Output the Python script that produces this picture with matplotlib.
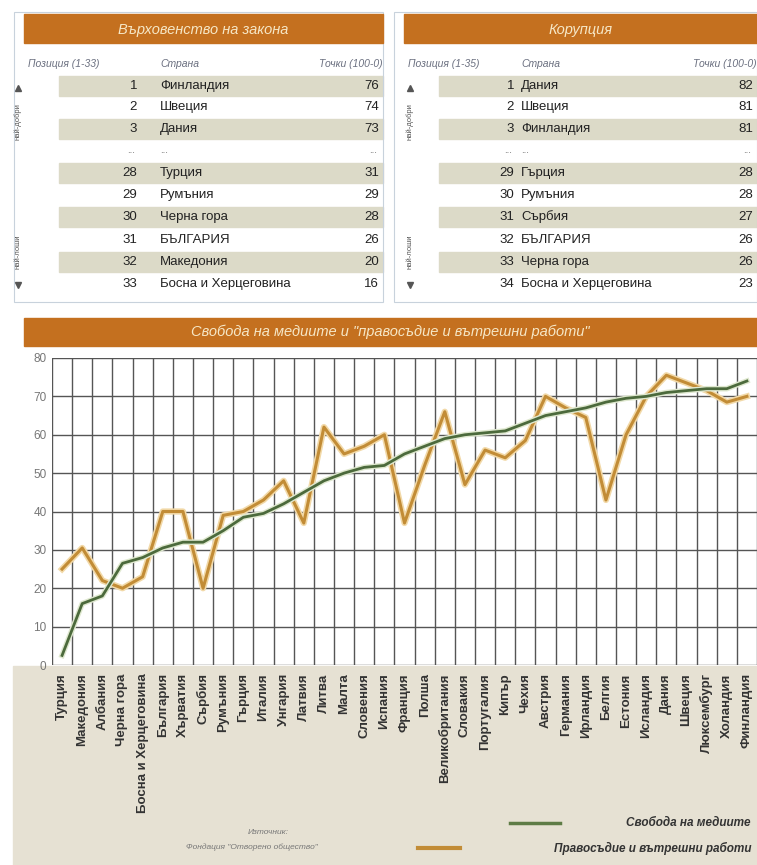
import matplotlib.pyplot as plt
from matplotlib.patches import Rectangle

plt.rcParams['font.family'] = ['Liberation Sans', 'DejaVu Sans']

# таблица "Върховенство на закона"
rule_pos = [1, 2, 3, 28, 29, 30, 31, 32, 33]
rule_countries = ['Финландия', 'Швеция', 'Дания', 'Турция', 'Румъния', 'Черна гора',
                  'БЪЛГАРИЯ', 'Македония', 'Босна и Херцеговина']
rule_scores = [76, 74, 73, 31, 29, 28, 26, 20, 16]

# таблица "Корупция"
corr_pos = [1, 2, 3, 29, 30, 31, 32, 33, 34]
corr_countries = ['Дания', 'Швеция', 'Финландия', 'Гърция', 'Румъния', 'Сърбия',
                  'БЪЛГАРИЯ', 'Черна гора', 'Босна и Херцеговина']
corr_scores = [82, 81, 81, 28, 28, 27, 26, 26, 23]

# графика
countries = ['Турция', 'Македония', 'Албания', 'Черна гора', 'Босна и Херцеговина',
             'България', 'Хърватия', 'Сърбия', 'Румъния', 'Гърция', 'Италия', 'Унгария',
             'Латвия', 'Литва', 'Малта', 'Словения', 'Испания', 'Франция', 'Полша',
             'Великобритания', 'Словакия', 'Португалия', 'Кипър', 'Чехия', 'Австрия',
             'Германия', 'Ирландия', 'Белгия', 'Естония', 'Исландия', 'Дания', 'Швеция',
             'Люксембург', 'Холандия', 'Финландия']
media = [2.5, 16, 18, 26.5, 28, 30.5, 32, 32, 35, 38.5, 39.5, 42, 45, 48, 50, 51.5, 52,
         55, 57, 59, 60, 60.5, 61, 63, 65, 66, 67, 68.5, 69.5, 70, 71, 71.5, 72, 72, 74]
justice = [25, 30.5, 22, 20, 23, 40, 40, 20, 39, 40, 43, 48, 37, 62, 55, 57, 60,
           37, 52, 66, 47, 56, 54, 58.5, 70, 67, 64.5, 43, 60, 70, 75.5, 73.5, 71.5, 68.5, 70]

W, H = 757, 865
ORANGE = '#c4701f'
CREAM = '#f6e7c6'
SHADE = '#dcdac8'
HEAD = '#6b7080'

fig = plt.figure(figsize=(W / 100, H / 100), dpi=100)
bg = fig.add_axes([0, 0, 1, 1])
bg.set_xlim(0, W)
bg.set_ylim(H, 0)
bg.axis('off')

# бежов фон под графиката
bg.add_patch(Rectangle((13, 666), W - 13, H - 666, color='#e6e1d3', zorder=0))


def draw_table(x0, x1, title, header_pos, pos, names, scores, num_x, name_x, arrow_x):
    bg.add_patch(Rectangle((x0 - 10, 12), x1 - x0 + 10, 290, fill=False, ec='#c8d2dc', lw=0.8))
    bg.add_patch(Rectangle((x0, 14), x1 - x0, 29, color=ORANGE))
    bg.text((x0 + x1) / 2, 30, title, color=CREAM, ha='center', va='center',
            fontsize=10.5, style='italic')
    bg.text(x0 + 4, 64, header_pos, color=HEAD, fontsize=7.5, style='italic', va='center')
    bg.text(name_x, 64, 'Страна', color=HEAD, fontsize=7.5, style='italic', va='center')
    bg.text(x1, 64, 'Точки (100-0)', color=HEAD, fontsize=7.5, style='italic',
            va='center', ha='right')
    ys = [86, 107, 129, 173, 195, 217, 240, 262, 284]
    for i, (p, n, s) in enumerate(zip(pos, names, scores)):
        y = ys[i]
        if i in (0, 2, 3, 5, 7):
            bg.add_patch(Rectangle((x0 + 35, y - 10), x1 - x0 - 35, 20, color=SHADE, zorder=0))
        bg.text(num_x, y, str(p), ha='right', va='center', fontsize=9.5, color='#222')
        bg.text(name_x, y, n, ha='left', va='center', fontsize=9.5, color='#222')
        bg.text(x1 - 4, y, str(s), ha='right', va='center', fontsize=9.5, color='#222')
    for xx in (num_x - 6, name_x + 4, x1 - 10):
        bg.text(xx, 150, '...', ha='center', va='center', fontsize=7, color='#666')
    # стрелки отляво
    bg.plot(arrow_x, 88, marker='^', ms=4, color='#555')
    bg.text(arrow_x, 122, 'най-добри', rotation=90, ha='center', va='center', fontsize=5.5, color='#555')
    bg.text(arrow_x, 252, 'най-лоши', rotation=90, ha='center', va='center', fontsize=5.5, color='#555')
    bg.plot(arrow_x, 285, marker='v', ms=4, color='#555')


draw_table(24, 383, 'Върховенство на закона', 'Позиция (1-33)', rule_pos, rule_countries,
           rule_scores, 137, 160, 18)
draw_table(404, 757, 'Корупция', 'Позиция (1-35)', corr_pos, corr_countries,
           corr_scores, 514, 521, 410)

# заглавие на графиката
bg.add_patch(Rectangle((24, 318), W - 24, 28, color=ORANGE))
bg.text(390, 332, 'Свобода на медиите и "правосъдие и вътрешни работи"', color=CREAM,
        ha='center', va='center', fontsize=10.5, style='italic')

# графиката
ax = fig.add_axes([52 / W, 1 - 665 / H, (W - 52) / W, (665 - 358) / H])
x = list(range(len(countries)))
ax.plot(x, justice, color='#f2d9a8', lw=4.5, solid_joinstyle='round', zorder=3)
ax.plot(x, justice, color='#c28c36', lw=2.2, solid_joinstyle='round', zorder=4)
ax.plot(x, media, color='#dfe8cf', lw=4, solid_joinstyle='round', zorder=5)
ax.plot(x, media, color='#4c6a3c', lw=2, solid_joinstyle='round', zorder=6)
ax.set_xlim(-0.5, 34.25)
ax.set_ylim(0, 80)
ax.set_yticks(range(0, 81, 10))
ax.set_xticks([i + 0.5 for i in range(-1, 35)], minor=True)
ax.set_xticks(x)
ax.set_xticklabels(countries, rotation=90, fontsize=9.5, fontweight='bold', color='#333')
ax.tick_params(axis='x', which='both', length=0, pad=6)
ax.tick_params(axis='y', length=0, labelsize=8.5, labelcolor='#777', pad=4)
ax.grid(True, which='minor', axis='x', color='#555', lw=1)
ax.grid(True, which='major', axis='y', color='#555', lw=1)
for s in ax.spines.values():
    s.set_visible(False)
ax.set_facecolor('white')

# легенда
bg.plot([510, 560], [823, 823], color='#5e7c46', lw=2.5)
bg.text(750, 823, 'Свобода на медиите', ha='right', va='center', fontsize=8.5,
        style='italic', fontweight='bold', color='#333')
bg.plot([418, 460], [848, 848], color='#c28c36', lw=3)
bg.text(752, 848, 'Правосъдие и вътрешни работи', ha='right', va='center', fontsize=8.5,
        style='italic', fontweight='bold', color='#333')

# източник
bg.text(268, 833, 'Източник:', ha='center', va='center', fontsize=6, style='italic', color='#777')
bg.text(252, 847, 'Фондация "Отворено общество"', ha='center', va='center', fontsize=6,
        style='italic', color='#777')

fig.savefig('out.png', dpi=100)
